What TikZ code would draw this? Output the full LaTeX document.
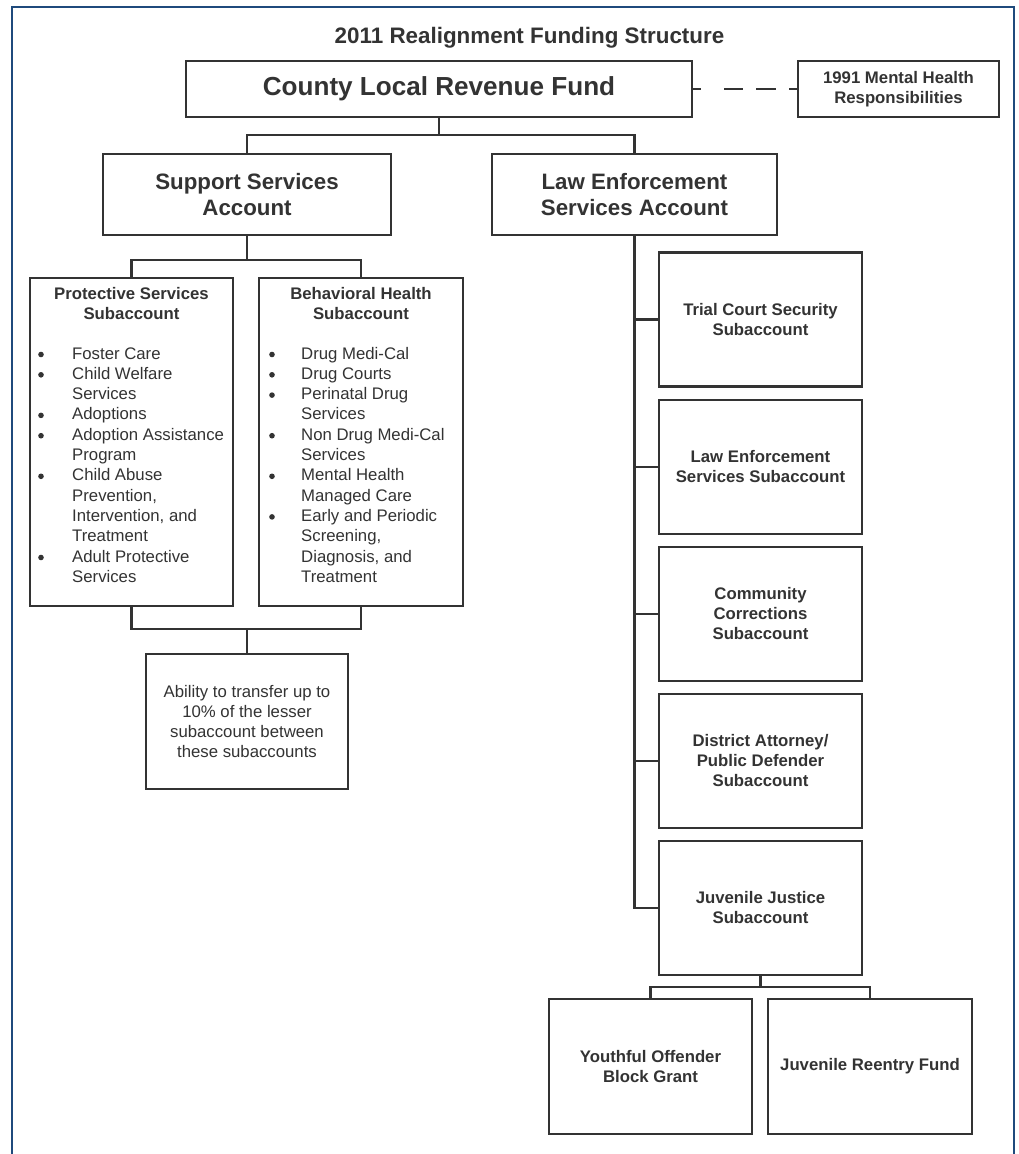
\documentclass[tikz,border=0pt]{standalone}
\usepackage{fontspec}
\setmainfont{Liberation Sans}
\definecolor{ink}{HTML}{333333}
\definecolor{frameblue}{HTML}{1F4A7C}
\tikzset{
  box/.style={draw=ink, line width=2.2pt, rectangle, inner sep=0pt, align=center, text=ink},
  sm/.style={font=\fontsize{16.75}{20}\selectfont},
  smb/.style={font=\fontsize{16.75}{20}\selectfont\bfseries},
  lgb/.style={font=\fontsize{22.3}{26.5}\selectfont\bfseries},
  conn/.style={draw=ink, line width=2.2pt},
  listline/.style={font=\fontsize{16.75}{20}\selectfont, text=ink, inner sep=0pt, anchor=base west},
  rbox/.style={box, smb, minimum width=203pt, minimum height=134pt},
}
\begin{document}
\begin{tikzpicture}[x=1pt, y=-1pt]
\useasboundingbox (0,0) rectangle (1019,1154);
\clip (0,0) rectangle (1019,1154);
\fill[white] (0,0) rectangle (1019,1154);
\draw[draw=frameblue, line width=2pt] (11.5,1170) -- (11.5,6.5) -- (1013.5,6.5) -- (1013.5,1170);

% title
\node[font=\fontsize{22.4}{26}\selectfont\bfseries, text=ink, anchor=base, inner sep=0pt] (title) at (529.5,43) {2011 Realignment Funding Structure};

% top level
\node[box, font=\fontsize{26.1}{30}\selectfont\bfseries, minimum width=506pt, minimum height=56pt] (clrf) at (439,89) {County Local Revenue Fund};
\node[box, smb, minimum width=201pt, minimum height=56pt] (mh) at (898.5,89) {1991 Mental Health\\Responsibilities};

% accounts
\node[box, lgb, minimum width=288pt, minimum height=81pt] (ssa) at (247,194.5) {Support Services\\Account};
\node[box, lgb, minimum width=285pt, minimum height=81pt] (lesa) at (634.5,194.5) {Law Enforcement\\Services Account};

% left subaccounts
\node[box, minimum width=203pt, minimum height=328pt] (pss) at (131.5,442) {};
\node[box, minimum width=204pt, minimum height=328pt] (bhs) at (361,442) {};
\node[smb, text=ink, align=center, inner sep=0pt] (psst) at (131.5,304) {Protective Services\\Subaccount};
\node[smb, text=ink, align=center, inner sep=0pt] (bhst) at (361,304) {Behavioral Health\\Subaccount};

\foreach \t [count=\i] in {Foster Care,Child Welfare,Services,Adoptions,Adoption Assistance,Program,Child Abuse,{Prevention,},{Intervention, and},Treatment,Adult Protective,Services}
  \node[listline] (pl\i) at (72,{359+20.3*(\i-1)}) {\t};
\foreach \i in {1,2,4,5,7,11}
  \fill[ink] (41,{354.5+20.3*(\i-1)}) circle (2.8pt);

\foreach \t [count=\i] in {Drug Medi-Cal,Drug Courts,Perinatal Drug,Services,Non Drug Medi-Cal,Services,Mental Health,Managed Care,Early and Periodic,{Screening,},{Diagnosis, and},Treatment}
  \node[listline] (bl\i) at (301,{359+20.3*(\i-1)}) {\t};
\foreach \i in {1,2,3,5,7,9}
  \fill[ink] (272,{354.5+20.3*(\i-1)}) circle (2.8pt);

\node[box, sm, minimum width=202pt, minimum height=135pt] (abil) at (247,721.5) {Ability to transfer up to\\10\% of the lesser\\subaccount between\\these subaccounts};

% right subaccounts
\node[rbox] (tcs) at (760.5,319.5) {Trial Court Security\\Subaccount};
\node[rbox] (les) at (760.5,467) {Law Enforcement\\Services Subaccount};
\node[rbox] (cc) at (760.5,614) {Community\\Corrections\\Subaccount};
\node[rbox] (da) at (760.5,761) {District Attorney/\\Public Defender\\Subaccount};
\node[rbox] (jj) at (760.5,908) {Juvenile Justice\\Subaccount};

\node[box, smb, minimum width=203pt, minimum height=135pt] (yobg) at (650.5,1066.5) {Youthful Offender\\Block Grant};
\node[box, smb, minimum width=204pt, minimum height=135pt] (jrf) at (870,1066.5) {Juvenile Reentry Fund};

% connectors
\draw[conn, dash pattern=on 8pt off 23pt on 19pt off 13pt on 20pt off 13pt on 10pt off 5pt] (clrf.east) -- (mh.west);

\coordinate (j1) at (439,135);
\draw[conn] (clrf.south) -- (j1);
\draw[conn] (ssa.north) |- (j1) -| (lesa.north);

\coordinate (j2) at (247,260);
\draw[conn] (ssa.south) -- (j2);
\draw[conn] (pss.north) |- (j2) -| (bhs.north);

\coordinate (j3) at (247,629);
\draw[conn] (pss.south) |- (j3) -| (bhs.south);
\draw[conn] (j3) -- (abil.north);

\draw[conn] (lesa.south) |- (jj.west);
\foreach \n in {tcs,les,cc,da}
  \draw[conn] (\n.west -| lesa.south) -- (\n.west);

\coordinate (j4) at (760.5,987);
\draw[conn] (jj.south) -- (j4);
\draw[conn] (yobg.north) |- (j4) -| (jrf.north);
\end{tikzpicture}
\end{document}
